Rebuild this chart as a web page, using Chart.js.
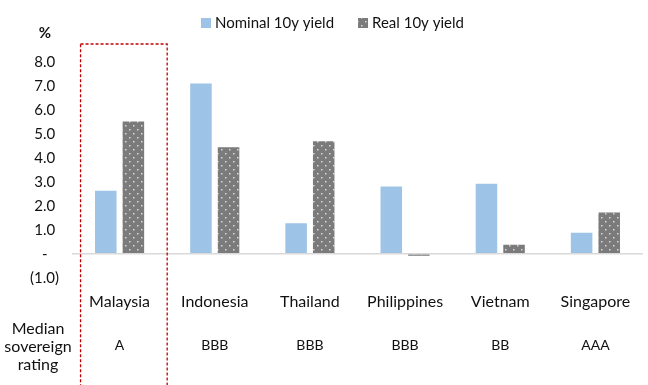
<!DOCTYPE html>
<html>
<head>
<meta charset="utf-8">
<script src="https://cdn.jsdelivr.net/npm/chart.js@4"></script>
<style>
  html, body { margin: 0; padding: 0; background: #fff; }
  #wrap { width: 648px; height: 385px; position: relative; }
</style>
</head>
<body>
<div id="wrap"><canvas id="chart"></canvas></div>
<script>
const countries = ['Malaysia', 'Indonesia', 'Thailand', 'Philippines', 'Vietnam', 'Singapore'];
const ratings = ['A', 'BBB', 'BBB', 'BBB', 'BB', 'AAA'];
const nominalYield = [2.63, 7.1, 1.27, 2.81, 2.92, 0.88];
const realYield = [5.52, 4.44, 4.69, -0.08, 0.38, 1.72];

const FONT = 'Lato, "Liberation Sans", sans-serif';
const TEXT = '#111';

// grey fill with white dots for the real-yield bars
function dotPattern() {
  const c = document.createElement('canvas');
  c.width = 8; c.height = 8;
  const g = c.getContext('2d');
  g.fillStyle = '#7b7b7b';
  g.fillRect(0, 0, 8, 8);
  g.fillStyle = '#d8d8d8';
  g.fillRect(1, 1, 1.5, 1.5);
  g.fillRect(5, 5, 1.5, 1.5);
  return g.createPattern(c, 'repeat');
}

// legend, rating row, "%" label and the dashed highlight box
const extras = {
  id: 'extras',
  afterDraw(chart) {
    const ctx = chart.ctx;
    const x = chart.scales.x;
    const area = chart.chartArea;
    const step = x.getPixelForValue(1) - x.getPixelForValue(0);
    ctx.save();
    ctx.textBaseline = 'middle';

    // legend
    ctx.font = '15px ' + FONT;
    ctx.textAlign = 'left';
    let lx = 201;
    chart.data.datasets.forEach(ds => {
      ctx.fillStyle = ds.backgroundColor;
      ctx.fillRect(lx, 18, 10, 10);
      ctx.fillStyle = TEXT;
      ctx.fillText(ds.label, lx + 14, 23);
      lx += 14 + ctx.measureText(ds.label).width + 24;
    });

    ctx.textAlign = 'center';
    ctx.fillStyle = TEXT;
    ctx.font = '14px ' + FONT;
    ratings.forEach((r, i) => ctx.fillText(r, x.getPixelForValue(i), 345));
    ctx.font = '16px ' + FONT;
    ['Median', 'sovereign', 'rating'].forEach((t, i) => ctx.fillText(t, 38, 329 + i * 18));
    ctx.font = 'bold 15px ' + FONT;
    ctx.fillText('%', 45, 33);

    const cx = x.getPixelForValue(0);
    ctx.strokeStyle = '#c00000';
    ctx.lineWidth = 1.3;
    ctx.setLineDash([3, 2]);
    ctx.strokeRect(cx - step * 0.41, area.top - 18, step * 0.91, 400);
    ctx.restore();
  }
};

const ctx = document.getElementById('chart');
new Chart(ctx, {
  type: 'bar',
  data: {
    labels: countries,
    datasets: [
      {
        label: 'Nominal 10y yield',
        data: nominalYield,
        backgroundColor: '#9dc3e6',
        barPercentage: 0.78,
        categoryPercentage: 0.58
      },
      {
        label: 'Real 10y yield',
        data: realYield,
        backgroundColor: dotPattern(),
        barPercentage: 0.78,
        categoryPercentage: 0.58
      }
    ]
  },
  options: {
    animation: false,
    responsive: true,
    maintainAspectRatio: false,
    layout: { padding: { top: 62, right: 5, bottom: 60, left: 0 } },
    plugins: {
      legend: { display: false },
      tooltip: { enabled: false }
    },
    scales: {
      x: {
        grid: { display: false, drawTicks: false },
        border: { display: false },
        ticks: { font: { family: FONT, size: 16 }, color: TEXT, padding: 14 }
      },
      y: {
        min: -1,
        max: 8,
        border: { display: false },
        grid: {
          drawTicks: false,
          color: c => c.tick.value === 0 ? '#d9d9d9' : 'rgba(0,0,0,0)',
          lineWidth: 1.5
        },
        ticks: {
          stepSize: 1,
          padding: 13,
          font: { family: FONT, size: 15 },
          color: TEXT,
          callback: v => v === 0 ? '-   ' : (v < 0 ? '(' + Math.abs(v).toFixed(1) + ')' : v.toFixed(1) + ' ')
        },
        afterFit: s => { s.width = 72; }
      }
    }
  },
  plugins: [extras]
});
</script>
</body>
</html>
